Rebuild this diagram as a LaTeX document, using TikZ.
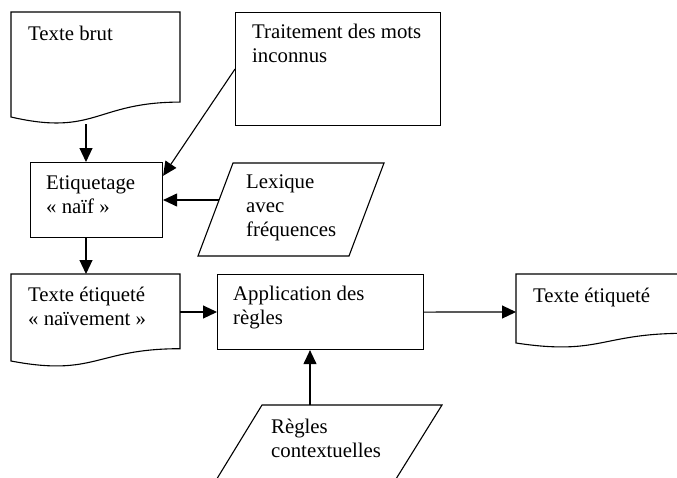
\documentclass[tikz,border=0pt]{standalone}
\usepackage{fontspec}
\setmainfont{Liberation Serif}
\usetikzlibrary{arrows.meta,calc}
\begin{document}
\begin{tikzpicture}[x=1pt,y=-1pt,
  outline/.style={draw=black, line width=1.1pt, line join=miter},
  flow/.style={draw=black, line width=1.1pt, -{Triangle[length=14pt,width=13pt]}},
  % multi-line labels are placed by the baseline of their last line
  txt/.style={anchor=base west, inner sep=0pt, align=left,
              font=\fontsize{20.8}{24}\selectfont},
  procbox/.style={outline, rectangle, inner sep=0pt, anchor=north west},
]
\useasboundingbox (0,0) rectangle (677,477);

% process boxes
\node[procbox, minimum width=205pt, minimum height=113pt] (trait) at (235,12) {};
\node[procbox, minimum width=132pt, minimum height=75pt] (etiq) at (30,162) {};
\node[procbox, minimum width=206pt, minimum height=75pt] (app) at (217,274) {};

% document shapes (wavy bottom)
\draw[outline] (11,12) -- (180,12) -- (180,102.1)
  .. controls (95.5,102.1) and (95.5,136.5) .. (11,117) -- cycle;
\draw[outline] (11,274) -- (180,274) -- (180,348.7)
  .. controls (95.5,348.7) and (95.5,377.1) .. (11,361) -- cycle;

% input data (parallelogram)
\draw[outline] (198,256) -- (233,163) -- (384,163) -- (349,256) -- cycle;

\begin{scope}
  \clip (0,0) rectangle (677,477);
  \draw[outline] (516,274) -- (685,274) -- (685,333.3)
    .. controls (600.5,333.3) and (600.5,355.8) .. (516,343) -- cycle;
  \draw[outline] (207,495) -- (262,405) -- (442,405) -- (386,495);
\end{scope}

% labels
\node[txt] (t-brut) at (28,40) {Texte brut};
\node[txt] (t-trait) at (252,62.5) {Traitement des mots\\inconnus};
\node[txt] (t-etiq) at (46,213) {Etiquetage\\« naïf »};
\node[txt] (t-lex) at (246,236.5) {Lexique\\avec\\fréquences};
\node[txt] (t-naive) at (28,325) {Texte étiqueté\\« naïvement »};
\node[txt] (t-app) at (233,324) {Application des\\règles};
\node[txt] (t-final) at (533,302) {Texte étiqueté};
\node[txt] (t-regles) at (271,457) {Règles\\contextuelles};

% connector end points on the free-form shapes
\coordinate (brut-out) at (86,124);
\coordinate (naive-in) at (86,274);
\coordinate (lex-out) at (219,200);
\coordinate (naive-out) at (180,312);
\coordinate (final-in) at (516,312);
\coordinate (regles-out) at (310,405);

% connectors
\draw[flow] (brut-out) -- (brut-out |- etiq.north);
\draw[flow] (brut-out |- etiq.south) -- (naive-in);
\draw[flow] (trait.west) -- (etiq.20);
\draw[flow] (lex-out) -- (lex-out -| etiq.east);
\draw[flow] (naive-out) -- (naive-out -| app.west);
\draw[flow] (app.east) -- (final-in);
\draw[flow] (regles-out) -- (regles-out |- app.south);
\end{tikzpicture}
\end{document}
